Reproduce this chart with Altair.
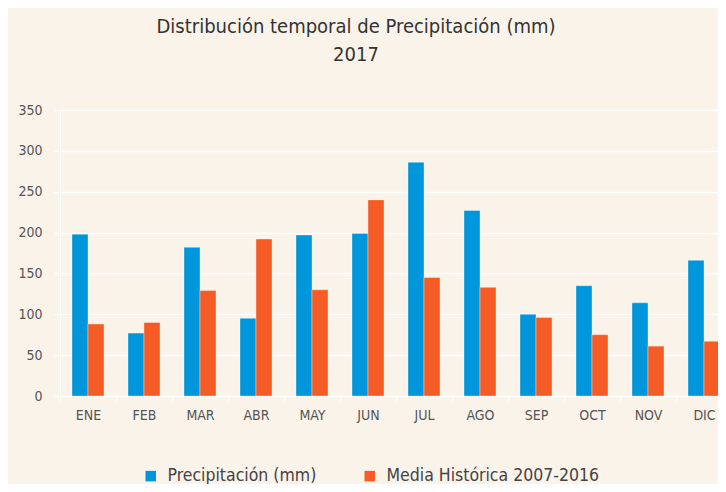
import altair as alt
import pandas as pd

months = ["ENE", "FEB", "MAR", "ABR", "MAY", "JUN", "JUL", "AGO", "SEP", "OCT", "NOV", "DIC"]
precip_2017 = [198, 77, 182, 95, 197, 199, 286, 227, 100, 135, 114, 166]
media_hist = [88, 90, 129, 192, 130, 240, 145, 133, 96, 75, 61, 67]
series = ["Precipitación (mm)", "Media Histórica 2007-2016"]
colors = ["#0096DB", "#F55B24"]

rows = []
for m, a, b in zip(months, precip_2017, media_hist):
    rows.append({"mes": m, "serie": series[0], "valor": a})
    rows.append({"mes": m, "serie": series[1], "valor": b})
df = pd.DataFrame(rows)

FONT = "DejaVu Sans Condensed, Roboto, sans-serif"
BG = "#F9F3EA"

chart = alt.Chart(df).mark_bar(
    stroke="white", strokeOpacity=0.35, strokeWidth=1
).encode(
    x=alt.X("mes:N", sort=months, title=None,
            scale=alt.Scale(range=[0, 672], paddingInner=0, paddingOuter=0),
            axis=alt.Axis(labelAngle=0, tickBand="extent", domain=True, domainColor="white",
                          tickColor="white", tickSize=5, labelPadding=7, labelFontSize=14,
                          labelColor="#555555", labelFont=FONT, grid=False)),
    xOffset=alt.XOffset("serie:N", sort=series,
                        scale=alt.Scale(paddingInner=0, paddingOuter=0.75)),
    y=alt.Y("valor:Q", title=None,
            scale=alt.Scale(domain=[0, 350], nice=False),
            axis=alt.Axis(values=[0, 50, 100, 150, 200, 250, 300, 350], grid=True,
                          gridColor="white", gridWidth=1.3, domainColor="white",
                          tickColor="white", tickSize=6, labelPadding=12, labelFontSize=14,
                          labelColor="#555555", labelFont=FONT)),
    color=alt.Color("serie:N", sort=series, title=None,
                    scale=alt.Scale(domain=series, range=colors),
                    legend=alt.Legend(orient="none", legendX=82, legendY=357, direction="horizontal",
                                      symbolType="square", symbolSize=110, symbolStrokeWidth=0,
                                      labelFontSize=17.5, labelColor="#444444", labelFont=FONT,
                                      labelLimit=400, columnPadding=44, labelOffset=8)),
).properties(
    width=658,
    height=286,
    title=alt.Title(["Distribución temporal de Precipitación (mm)", "2017"],
                    fontSize=20, font=FONT, fontWeight="normal", color="#333333",
                    lineHeight=28, anchor="middle", dx=-33, offset=38),
    background=BG,
    padding={"left": 52, "top": 102, "right": 0, "bottom": 88},
    autosize=alt.AutoSizeParams(type="none"),
).configure_view(stroke=None, fill=BG)

chart.save("out.html", embed_options={"renderer": "svg", "actions": False})
